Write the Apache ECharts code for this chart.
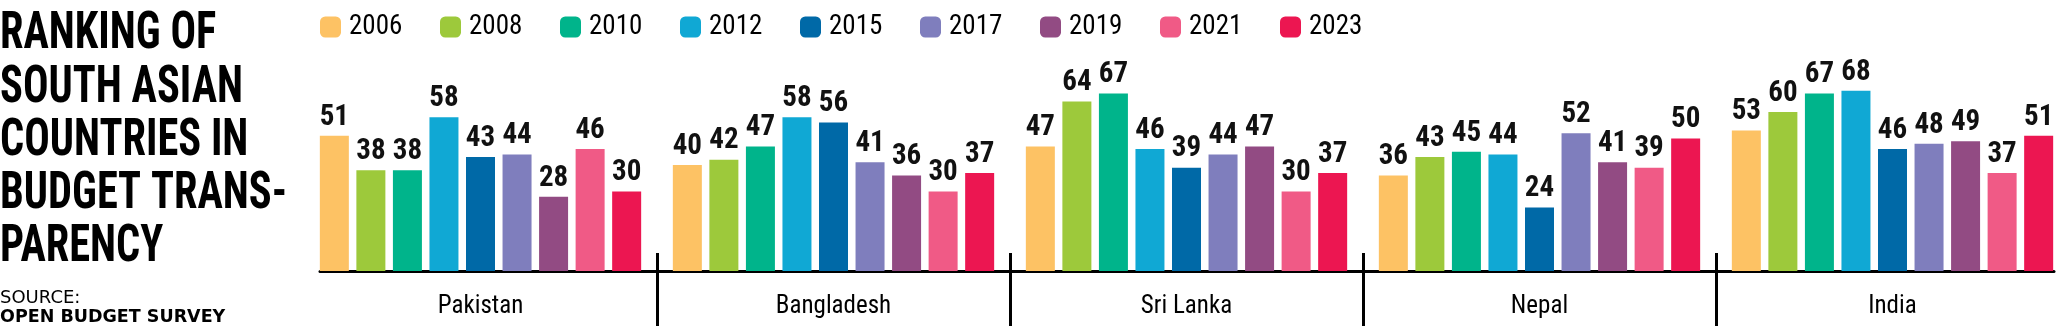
<!DOCTYPE html>
<html>
<head>
<meta charset="utf-8">
<script src="https://cdn.jsdelivr.net/npm/echarts@6/dist/echarts.min.js"></script>
<style>
html,body{margin:0;padding:0;background:#fff;}
#c{width:2056px;height:330px;}
</style>
</head>
<body>
<div id="c"></div>
<script>
// ---- data ----
const countries = ['Pakistan', 'Bangladesh', 'Sri Lanka', 'Nepal', 'India'];
const years = ['2006', '2008', '2010', '2012', '2015', '2017', '2019', '2021', '2023'];
const v2006 = [51, 40, 47, 36, 53];
const v2008 = [38, 42, 64, 43, 60];
const v2010 = [38, 47, 67, 45, 67];
const v2012 = [58, 58, 46, 44, 68];
const v2015 = [43, 56, 39, 24, 46];
const v2017 = [44, 41, 44, 52, 48];
const v2019 = [28, 36, 47, 41, 49];
const v2021 = [46, 30, 30, 39, 37];
const v2023 = [30, 37, 37, 50, 51];
const yearValues = [v2006, v2008, v2010, v2012, v2015, v2017, v2019, v2021, v2023];
const colors = ['#FDC264', '#9DC93B', '#00B48B', '#10A8D4', '#0069A7', '#7F7EBD', '#924B83', '#F05A86', '#EC1651'];
const titleLines = ['RANKING OF', 'SOUTH ASIAN', 'COUNTRIES IN', 'BUDGET TRANS-', 'PARENCY'];

const NARROW = '"Roboto Condensed", "Liberation Sans Narrow", Roboto, sans-serif';

// measure title to squeeze it to the reference width
const titleFont = 'bold 51px "Roboto Condensed", "DejaVu Sans", sans-serif';
const cv = document.createElement('canvas').getContext('2d');
cv.font = titleFont;
const wMeasured = cv.measureText('BUDGET TRANS-').width;
const titleScale = 287 / wMeasured;

const chart = echarts.init(document.getElementById('c'), null, {renderer: 'canvas'});

const series = years.map((y, i) => ({
  name: y,
  type: 'bar',
  xAxisIndex: 0,
  yAxisIndex: 0,
  data: yearValues[i],
  barWidth: 29,
  barGap: '26%',
  itemStyle: {color: colors[i]},
  label: {
    show: true,
    position: 'top',
    distance: 4,
    fontSize: 29,
    fontWeight: 'bold',
    fontFamily: NARROW,
    color: '#111'
  }
}));

const option = {
  animation: false,
  color: colors,
  legend: {
    data: years,
    left: 320,
    top: 12,
    padding: 0,
    itemWidth: 21,
    itemHeight: 21,
    itemGap: 31,
    icon: 'roundRect',
    textStyle: {
      fontSize: 27,
      fontFamily: NARROW,
      color: '#000',
      width: 60,
      lineHeight: 30,
      padding: [0, 0, 0, 3]
    }
  },
  grid: [
    {left: 304, width: 1765, top: 6, bottom: 59, outerBoundsMode: 'none', containLabel: false},
    {left: 320, width: 1734, top: 6, bottom: 59, outerBoundsMode: 'none', containLabel: false}
  ],
  xAxis: [
    {
      type: 'category',
      gridIndex: 0,
      position: 'bottom',
      data: countries,
      axisLine: {show: false},
      axisTick: {show: false},
      axisLabel: {
        fontSize: 25,
        fontFamily: NARROW,
        color: '#000',
        margin: 23
      }
    },
    {
      type: 'value',
      gridIndex: 0,
      position: 'bottom',
      min: 0,
      max: 5,
      interval: 1,
      offset: -18,
      axisLine: {show: false},
      axisLabel: {show: false},
      splitLine: {show: false},
      axisTick: {
        show: true,
        length: 73,
        customValues: [1, 2, 3, 4],
        lineStyle: {color: '#000', width: 3}
      }
    },
    {
      type: 'value',
      gridIndex: 1,
      position: 'bottom',
      min: 0,
      max: 1,
      axisLine: {show: true, lineStyle: {color: '#000', width: 3}},
      axisTick: {show: false},
      axisLabel: {show: false},
      splitLine: {show: false}
    }
  ],
  yAxis: [
    {type: 'value', gridIndex: 0, min: 0, max: 100, show: false, splitLine: {show: false}},
    {type: 'value', gridIndex: 1, min: 0, max: 1, show: false, splitLine: {show: false}}
  ],
  graphic: [
    {
      type: 'text',
      x: 0,
      y: 9,
      scaleX: titleScale,
      style: {
        text: titleLines.join('\n'),
        font: titleFont,
        lineHeight: 53.2,
        fill: '#000',
        align: 'left',
        verticalAlign: 'top'
      }
    },
    {
      type: 'text',
      x: 0,
      y: 289,
      style: {
        text: 'SOURCE:',
        font: '18px "DejaVu Sans", sans-serif',
        fill: '#000',
        align: 'left',
        verticalAlign: 'top'
      }
    },
    {
      type: 'text',
      x: 0,
      y: 308,
      style: {
        text: 'OPEN BUDGET SURVEY',
        font: 'bold 17.5px "DejaVu Sans", sans-serif',
        fill: '#000',
        align: 'left',
        verticalAlign: 'top'
      }
    }
  ],
  series: series
};

chart.setOption(option);
</script>
</body>
</html>
